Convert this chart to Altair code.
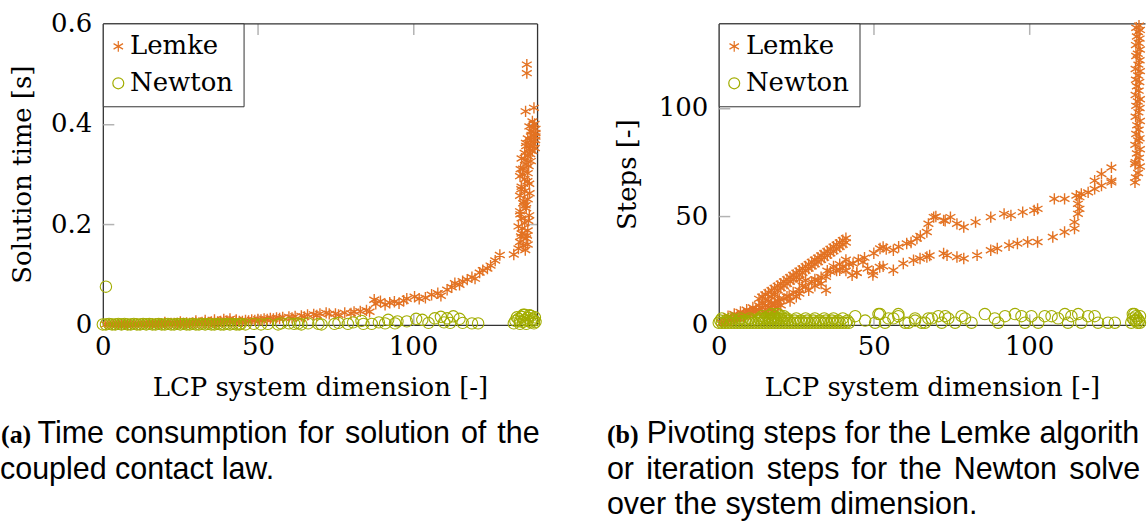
import altair as alt
import pandas as pd

# ---------------- data ----------------
SERIES = ["Lemke", "Newton"]

# (a) solution time [s] -- Lemke
LA_X1 = [1,2,3,4,5,6,7,8,9,10,11,12,13,14,15,16,17,18,19,20,21,22,23,24,25,26,27,28,29,30,31,32,33,34,35,36,37,38,39,40,41,42,43,44,
         20,25,30,33,36,39,41,43]
LA_Y1 = [0.001,0.001,0.001,0.001,0.001,0.001,0.001,0.001,0.001,0.001,
         0.002,0.001,0.002,0.002,0.002,0.002,0.002,0.002,0.002,0.003,
         0.002,0.003,0.003,0.003,0.003,0.003,0.004,0.003,0.004,0.004,
         0.004,0.005,0.004,0.005,0.006,0.005,0.006,0.007,0.006,0.008,
         0.007,0.006,0.008,0.007,
         0.005,0.006,0.008,0.009,0.010,0.011,0.012,0.010]
LA_X2 = [45,46,47,48,49,50,51,52,53,54,55,56,57,58,60,61,62,64,65,66,68,69,70,72,73,75,76,78,80,81,83,85,86]
LA_Y2 = [0.007,0.009,0.008,0.010,0.009,0.011,0.010,0.012,0.011,0.013,0.012,0.014,0.013,0.015,0.016,0.014,0.017,0.018,0.016,0.020,
         0.021,0.019,0.022,0.024,0.022,0.022,0.020,0.024,0.023,0.026,0.027,0.029,0.026]
LA_X3 = [87.5,88,89.5,91,92.5,94,95.5,97,98,100.5,102,104,106,108,109,111,112.5,113.5,115,116,117.5,119,120,121.5,122.5,124,125,126.5,128]
LA_Y3 = [0.050,0.042,0.047,0.040,0.044,0.046,0.043,0.048,0.052,0.056,0.052,0.054,0.060,0.063,0.058,0.070,0.075,0.083,0.080,0.087,
         0.090,0.095,0.092,0.104,0.109,0.112,0.118,0.128,0.139]
LA_X4 = [132.5,134,136.2,134.5,136.5,135,137,134,136,135,137.5,134.5,136.5,135.5,137,134.5,136,135,137.5,136,134.5,137,135.5,136.5,138,
         135,137,136,138.5,137.5,136.5,139,138,139.4,137,139,139.5,138,139.5,138.8,137.5,139.2,138.5,139.5,139.3,136.3,139,136.7,136.7,
         135.5,137,134.8,136.8,135.2,137.2,134.6,136.3,135.8,137.6,134.9,136.9,135.3,137.3,136.1,134.7,137.8,136.4,138.2,137.9]
LA_Y4 = [0.140,0.152,0.149,0.165,0.172,0.182,0.188,0.196,0.203,0.212,0.218,0.226,0.232,0.242,0.250,0.257,0.266,0.275,0.281,0.290,
         0.296,0.302,0.311,0.320,0.326,0.331,0.336,0.342,0.346,0.351,0.356,0.360,0.366,0.368,0.371,0.376,0.382,0.385,0.390,0.392,
         0.395,0.400,0.405,0.375,0.352,0.425,0.432,0.501,0.518,
         0.158,0.160,0.176,0.178,0.192,0.207,0.220,0.238,0.246,0.262,0.270,0.286,0.300,0.316,0.328,0.310,0.340,0.362,0.378,0.358]

# (a) solution time [s] -- Newton
NA_X1 = [0,1,2,3,4,5,6,7,8,9,10,11,12,13,14,15,16,17,18,19,20,21,22,23,24,25,26,27,28,29,30,31,32,33,34,35,36,37,38,39,40,41,42,43,44, 1]
NA_Y1 = [0.001,0.001,0.002,0.001,0.001,0.002,0.001,0.002,0.001,0.001,0.002,0.001,0.001,0.002,0.001,0.002,0.001,0.001,0.002,0.001,
         0.001,0.002,0.001,0.001,0.002,0.001,0.002,0.001,0.001,0.002,0.001,0.001,0.002,0.001,0.002,0.001,0.001,0.002,0.001,0.001,
         0.002,0.001,0.002,0.001,0.001, 0.076]
NA_X2 = [44.5,46,48.7,51,53.2,56.5,57.5,60,61.7,63,64,66.2,69.5,70.5,74.7,76,79,80.7,83.4,84,86.7,89,91,92,94.2,95,98,101,103,105,
         107,109,110,111,112,113,115,116,119,121]
NA_Y2 = [0.002,0.001,0.002,0.001,0.002,0.001,0.003,0.003,0.002,0.003,0.001,0.003,0.002,0.001,0.002,0.004,0.002,0.005,0.008,0.002,
         0.002,0.005,0.003,0.010,0.003,0.007,0.007,0.012,0.010,0.004,0.013,0.016,0.005,0.013,0.004,0.017,0.012,0.004,0.003,0.003]
NA_X3 = [132.5,133,134,134.5,135,135.5,136,136.5,137,137.5,138,138.5,139,139.3,136,138,134.5,137,139,139.5,133.5,135.5]
NA_Y3 = [0.003,0.008,0.012,0.002,0.016,0.006,0.010,0.002,0.014,0.019,0.005,0.011,0.003,0.015,0.020,0.018,0.007,0.008,0.009,0.006,
         0.015,0.020]

# (b) steps [-] -- Lemke
LB_X1 = [1,2,2,3,3,4,4,5,5,6,6,7,7,8,8,9,9,10,10,11,11,12,12,13,13]
LB_Y1 = [1,1,2,2,4,2,3,3,5,3,4,4,6,4,5,5,7,5,6,6,8,6,7,7,9]
LB_X2 = [13,14,14,14,15,15,15,15,16,16,16,16,17,17,17,17,18,18,18,18,19,19,19,20,20,21,21,22,22,23,23,24,24,25,25,26,26,26,
         27,27,28,28,29,29,30,30,31,31,32,32,33,33,34,34,35,35,36,36,37,37,38,38,39,39,40,40,41,41]
LB_Y2 = [12,8,10,13,6,9,12,14,5,8,11,15,7,10,13,16,6,9,14,17,8,16,18,17,19,18,20,19,21,20,22,21,23,22,24,21,23,25,
         24,26,25,27,26,28,27,29,28,30,29,31,30,32,31,33,32,34,33,35,34,36,35,37,36,38,37,39,38,40]
LB_X3 = [17,18,19,19.5,20,21,22,22.7,23,24,25,26,26,27,28,28,29,30,31,31,32,33,33,34.6,35,34.6,36,37,38,39,39,40,41,41,42,
         43,43.3,44.5,45,46.5,47,48,49.8,50]
LB_Y3 = [8,10,11,12,9,12,13,13,11,15,13,16,14.5,18,17.6,20.6,16,19.9,21,18,20.6,22,19,22.2,25,16,24.5,27,25,25.2,28,27,25,30,28,
         22.9,28.3,24,30,29,31,26,24.5,33]
LB_X4 = [52,53,54,56.3,58,60.6,62,63.9,65,67.1,67.6,69.3,70,72.5,73,74.7,76.8,79,82.8,87.7,92,94.2,98,101.7,102.8,108.2,111.5,
         115.3,116.9,119.1,121.2,123.4,126.6,121.2,123.4,126.6,126.6,134.2,134.2]
LB_Y4 = [35.2,35.9,35,34.4,36,37.5,38,39.8,41,42.8,46.6,49.7,50,48.2,48,49.7,46.6,45.1,47.4,49.7,51.2,50.5,52,52.8,53.5,58.1,58.1,
         59.6,60.4,61.1,62.7,64.2,65.7,66.5,69.6,72.6,66.5,74.2,65.7]
LB_X5 = [44.5,49.7,51.9,53,56.3,59.5,62.8,64.9,67.1,68,72.5,73.6,76.8,79,83.3,87.7,89.8,93.6,96.3,99.6,102.8,107.7,111.5,114.7,
         114.7,115.8,116.3,115.8,116.3]
LB_Y5 = [24,23,26.7,27,25.2,28.3,29.8,30.6,31.3,32,32.9,32.1,31.3,30.6,32.1,34.4,35.2,36.7,37.5,38.2,38.2,40.5,42.8,44.4,
         47.4,51.2,53.5,55.8,58.9]
LB_X6 = [134.5,135.2,135.8,134.4,135.5,134.8,135.8,134.3,135.2,135.7,134.6,135.4,134.9,135.8,134.4,135.3,135.7,134.6,135.1,135.8,
         134.4,135.4,134.8,135.6,134.5,135.2,135.8,134.4,135.3,135.7,134.6,135.1,135.8,134.5,135.4,135.7,134.8,135.2,135.8,134.6,135.5]
LB_Y6 = [68,70,73,75,77,79,81,83,85,86,88,90,92,94,96,98,100,101,103,104,106,108,110,112,113,115,117,118,120,122,
         124,125,127,129,130,132,133,135,136,137,138]

# (b) steps [-] -- Newton
NB_X1 = [0,1,2,3,4,5,6,7,8,9,10,11,12,13,14,15,16,17,18,19,20,21,22,23,24,25,26,27,28,29,30,31,32,33,34,35,36,37,38,39,40,41,42]
NB_Y1 = [1,1,1,1,1,1,1,1,1,1,1,1,1,1,1,1,1,1,1,1,1,1,1,1,1,1,1,1,1,1,1,1,1,1,1,1,1,1,1,1,1,1,1]
NB_X2 = [0.5,2.5,4.5,6.5,8.5,10.5,12.5,14.5,16.5,18.5,20.5,22.5,24.5,26.5,28.5,30.5,32.5,34.5,36.5,38.5,41.5,
         1,4,7,10,13,14,15,16,17,18,19,20,21,22,25,28,31,34,37,40,
         14,16,18,20,21,17,19]
NB_Y2 = [2,2,2,2,2,2,2,2,2,2,2,2,2,2,2,2,2,2,2,2,2,
         3,3,3,3,3,3,3,3,3,3,3,3,3,3,3,3,3,3,3,3,
         4,4,4,4,4,5,5]
NB_X3 = [44,47.2,50.4,51.5,52,53.6,54.7,56.3,57.9,57.9,60.1,61.2,63.3,63.3,65.4,66.5,67.6,68.7,70.8,71.9,73,74,76.2,78.3,79.4,
         81.5,85.8,89,90.1,92.3,95.5,97.6,98.7,100.8,103,105.1,107.3,109.4,111.6,112.6,113.7,115.9,116.9,119.1,121.2,122.3,125.5,127.7]
NB_Y3 = [4,2,1,5,5,1,3,3,4,5,1,1,2,3,1,1,3,3,4,1,4,3,1,4,3,
         1,5,3,1,4,5,4,1,4,1,4,4,3,5,1,4,5,1,4,4,1,1,1]
NB_X4 = [133,133.5,134,134,134.5,135,135,135.5,135.8,135.8,134.5,133.5]
NB_Y4 = [1,3,2,5,4,1,3,2,4,1,2,5]

# ---------------- texts ----------------
X_TITLE = "LCP system dimension [-]"
Y_TITLE_A = "Solution time [s]"
Y_TITLE_B = "Steps [-]"
CAP_A_TAG = "(a)"
CAP_A_L1 = " \u200a".join(["Time", "consumption", "for", "solution", "of", "the"])
CAP_A_L2 = "coupled contact law."
CAP_B_TAG = "(b)"
CAP_B_L1 = "Pivoting steps for the Lemke algorithm"
CAP_B_L2 = "\u2009\u2009".join(["or", "iteration", "steps", "for", "the", "Newton", "solver"])
CAP_B_L3 = "over the system dimension."

# ---------------- style ----------------
ORANGE = "#E37222"
GREEN = "#A2AD00"
SERIF = "DejaVu Serif"
SANS = "Liberation Sans"
TAGFONT = "Liberation Serif"
FRAME = "#333333"
TICKC = "#b3b3b3"
ASTERISK = "M0,-1L0,1M-0.866,-0.5L0.866,0.5M-0.866,0.5L0.866,-0.5"
H = 302
WA = 435
WB = 427
CAPSIZE = 30.5

LEG = alt.Legend(title=None, orient="none", legendX=0, legendY=0, direction="vertical",
                 labelFont=SERIF, labelFontSize=26, labelColor="black", labelLimit=400,
                 labelExpr="datum.label + '\u00a0'",
                 symbolSize=120, symbolStrokeWidth=1.2, symbolOpacity=1,
                 symbolOffset=alt.ExprRef(expr="-7.5"),
                 strokeColor=FRAME, fillColor="white", padding=10, rowPadding=11,
                 labelOffset=alt.ExprRef(expr="-1.3"), cornerRadius=0)


def color_enc():
    return alt.Color("series:N", scale=alt.Scale(domain=SERIES, range=[ORANGE, GREEN]), legend=LEG)


def shape_enc():
    return alt.Shape("series:N", scale=alt.Scale(domain=SERIES, range=[ASTERISK, "circle"]), legend=LEG)


def label_axis(orient, values, fmt, title, label_pad, title_pad):
    return alt.Axis(orient=orient, values=values, format=fmt, title=title,
                    labelFont=SERIF, labelFontSize=26, labelColor="black", labelPadding=label_pad,
                    labelFlush=False, labelOverlap=False, labelBound=False,
                    ticks=False, domain=True, domainColor=FRAME, domainWidth=1.3,
                    titleFont=SERIF, titleFontSize=26, titleFontWeight="normal", titleColor="black",
                    titlePadding=title_pad, grid=False)


def tick_axis(orient, values, offset, domain):
    return alt.Axis(orient=orient, offset=offset, values=values, labels=False, title=None,
                    ticks=True, tickSize=11, tickColor=TICKC, tickWidth=1.5,
                    domain=domain, domainColor=FRAME, domainWidth=1.3, grid=False)


ONE = pd.DataFrame({"k": [0]})


def cap(text, x, y, font, size, weight="normal", limit=None):
    kw = dict(text=text, align="left", baseline="alphabetic", font=font, fontSize=size,
              fontWeight=weight, color="black")
    if limit is not None:
        kw.update(limit=limit, ellipsis="\u200b")
    return alt.Chart(ONE).mark_text(**kw).encode(x=alt.value(x), y=alt.value(y))


def panel(lx, ly, nx, ny, xmax, ymax, width, yvals, yinner, yfmt, ytitle, ytitle_pad, right_frame, caps):
    lem = pd.DataFrame({"x": lx, "y": ly, "series": "Lemke"})
    new = pd.DataFrame({"x": nx, "y": ny, "series": "Newton"})
    xs = alt.Scale(domain=[0, xmax], nice=False, zero=False)
    ys = alt.Scale(domain=[0, ymax], nice=False, zero=False)
    l1 = alt.Chart(lem).mark_point(filled=False, size=130, strokeWidth=1.4, opacity=1).encode(
        x=alt.X("x:Q", scale=xs, axis=label_axis("bottom", [0, 50, 100], "d", X_TITLE, 9, 15)),
        y=alt.Y("y:Q", scale=ys, axis=label_axis("left", yvals, yfmt, ytitle, 11, ytitle_pad)),
        color=color_enc(), shape=shape_enc())
    l2 = alt.Chart(new).mark_point(filled=False, size=130, strokeWidth=1.1, opacity=1).encode(
        x=alt.X("x:Q", scale=xs, axis=tick_axis("top", [50, 100], -H, False)),
        y=alt.Y("y:Q", scale=ys, axis=tick_axis("right", yinner, -width, False)),
        color=color_enc(), shape=shape_enc())
    yax3 = tick_axis("left", yinner, -width, True) if right_frame else None
    l3 = alt.Chart(new).mark_point(opacity=0).encode(
        x=alt.X("x:Q", scale=xs, axis=tick_axis("bottom", [50, 100], -H, True)),
        y=alt.Y("y:Q", scale=ys, axis=yax3))
    return alt.layer(l1, l2, l3, *caps).resolve_axis(x="independent", y="independent").properties(
        width=width, height=H)


panel_a = panel(LA_X1 + LA_X2 + LA_X3 + LA_X4, LA_Y1 + LA_Y2 + LA_Y3 + LA_Y4,
                NA_X1 + NA_X2 + NA_X3, NA_Y1 + NA_Y2 + NA_Y3,
                140, 0.6, WA, [0, 0.2, 0.4, 0.6], [0.2, 0.4], ".1~f", Y_TITLE_A, 15, True,
                [cap(CAP_A_TAG, -102, 420, TAGFONT, 26, "bold"),
                 cap(CAP_A_L1, -65.5, 420, SANS, CAPSIZE),
                 cap(CAP_A_L2, -103, 456, SANS, CAPSIZE)])

panel_b = panel(LB_X1 + LB_X2 + LB_X3 + LB_X4 + LB_X5 + LB_X6, LB_Y1 + LB_Y2 + LB_Y3 + LB_Y4 + LB_Y5 + LB_Y6,
                NB_X1 + NB_X2 + NB_X3 + NB_X4, NB_Y1 + NB_Y2 + NB_Y3 + NB_Y4,
                WB / 3.107, 139, WB, [0, 50, 100], [50, 100], "d", Y_TITLE_B, 18, False,
                [cap(CAP_B_TAG, -112, 420, TAGFONT, 26, "bold"),
                 cap(CAP_B_L1, -72, 420, SANS, CAPSIZE, limit=WB + 72),
                 cap(CAP_B_L2, -112, 456, SANS, CAPSIZE, limit=WB + 112),
                 cap(CAP_B_L3, -112, 491.5, SANS, CAPSIZE)])

chart = alt.hconcat(panel_a, panel_b, spacing=182, bounds="flush").resolve_scale(
    color="independent", shape="independent").properties(
    padding={"left": 0, "top": 10, "right": 0, "bottom": 0}
).configure(background="white").configure_view(stroke=None)

chart.save("out.html", embed_options={"renderer": "svg", "actions": False})
